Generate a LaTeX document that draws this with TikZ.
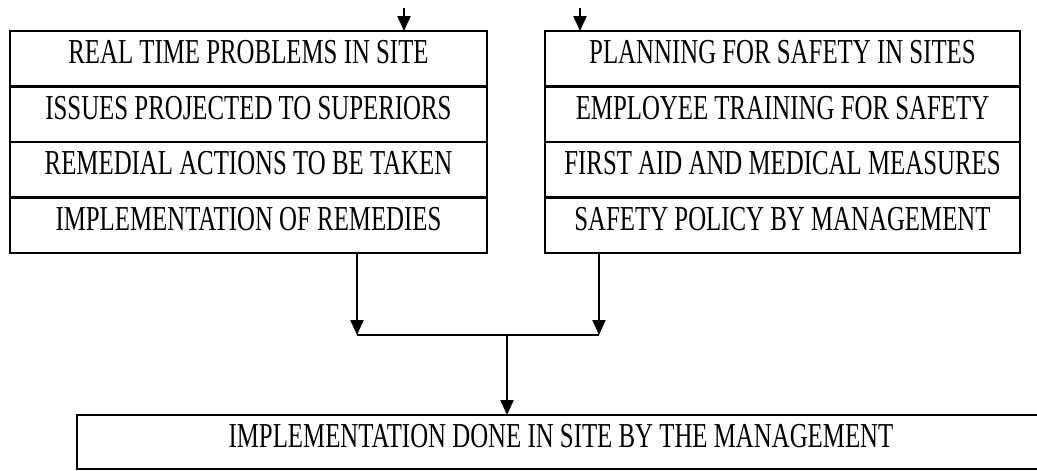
\documentclass[tikz,border=0pt]{standalone}
\usepackage{fontspec}
\newfontfamily\rowfont[FakeStretch=0.71]{Liberation Serif}
\usetikzlibrary{arrows.meta,positioning}

\begin{document}
\begin{tikzpicture}[x=1pt,y=-1pt,
  row/.style={draw, line width=2.6pt, minimum width=477pt, minimum height=55.5pt,
    inner sep=0pt, outer sep=0pt, text height=23pt, text depth=13pt,
    font=\rowfont\fontsize{35}{40}\selectfont},
  arr/.style={line width=2pt, -{Triangle[width=13pt,length=15pt]}}]
  \clip (0,0) rectangle (1037,471);

  \node[row] (l1) at (248.5,58.75) {REAL TIME PROBLEMS IN SITE};
  \node[row, below=0pt of l1] (l2) {ISSUES PROJECTED TO SUPERIORS};
  \node[row, below=0pt of l2] (l3) {REMEDIAL ACTIONS TO BE TAKEN};
  \node[row, below=0pt of l3] (l4) {IMPLEMENTATION OF REMEDIES};

  \node[row, minimum width=475pt] (r1) at (782.5,58.75) {PLANNING FOR SAFETY IN SITES};
  \node[row, minimum width=475pt, below=0pt of r1] (r2) {EMPLOYEE TRAINING FOR SAFETY};
  \node[row, minimum width=475pt, below=0pt of r2] (r3) {FIRST AID AND MEDICAL MEASURES};
  \node[row, minimum width=475pt, below=0pt of r3] (r4) {SAFETY POLICY BY MANAGEMENT};

  \node[row, minimum width=968pt, minimum height=54pt] (impl) at (561,442)
    {IMPLEMENTATION DONE IN SITE BY THE MANAGEMENT};

  \coordinate (tl) at (404,8);
  \coordinate (tr) at (580,8);
  \coordinate (jl) at (357,335);
  \coordinate (jr) at (599,335);
  \coordinate (jm) at (507,335);

  \draw[arr] (tl) -- (l1.north -| tl);
  \draw[arr] (tr) -- (r1.north -| tr);
  \draw[arr] (l4.south -| jl) -- (jl);
  \draw[arr] (r4.south -| jr) -- (jr);
  \draw[line width=2pt] (jl) -- (jr);
  \draw[arr] (jm) -- (impl.north -| jm);
\end{tikzpicture}
\end{document}
